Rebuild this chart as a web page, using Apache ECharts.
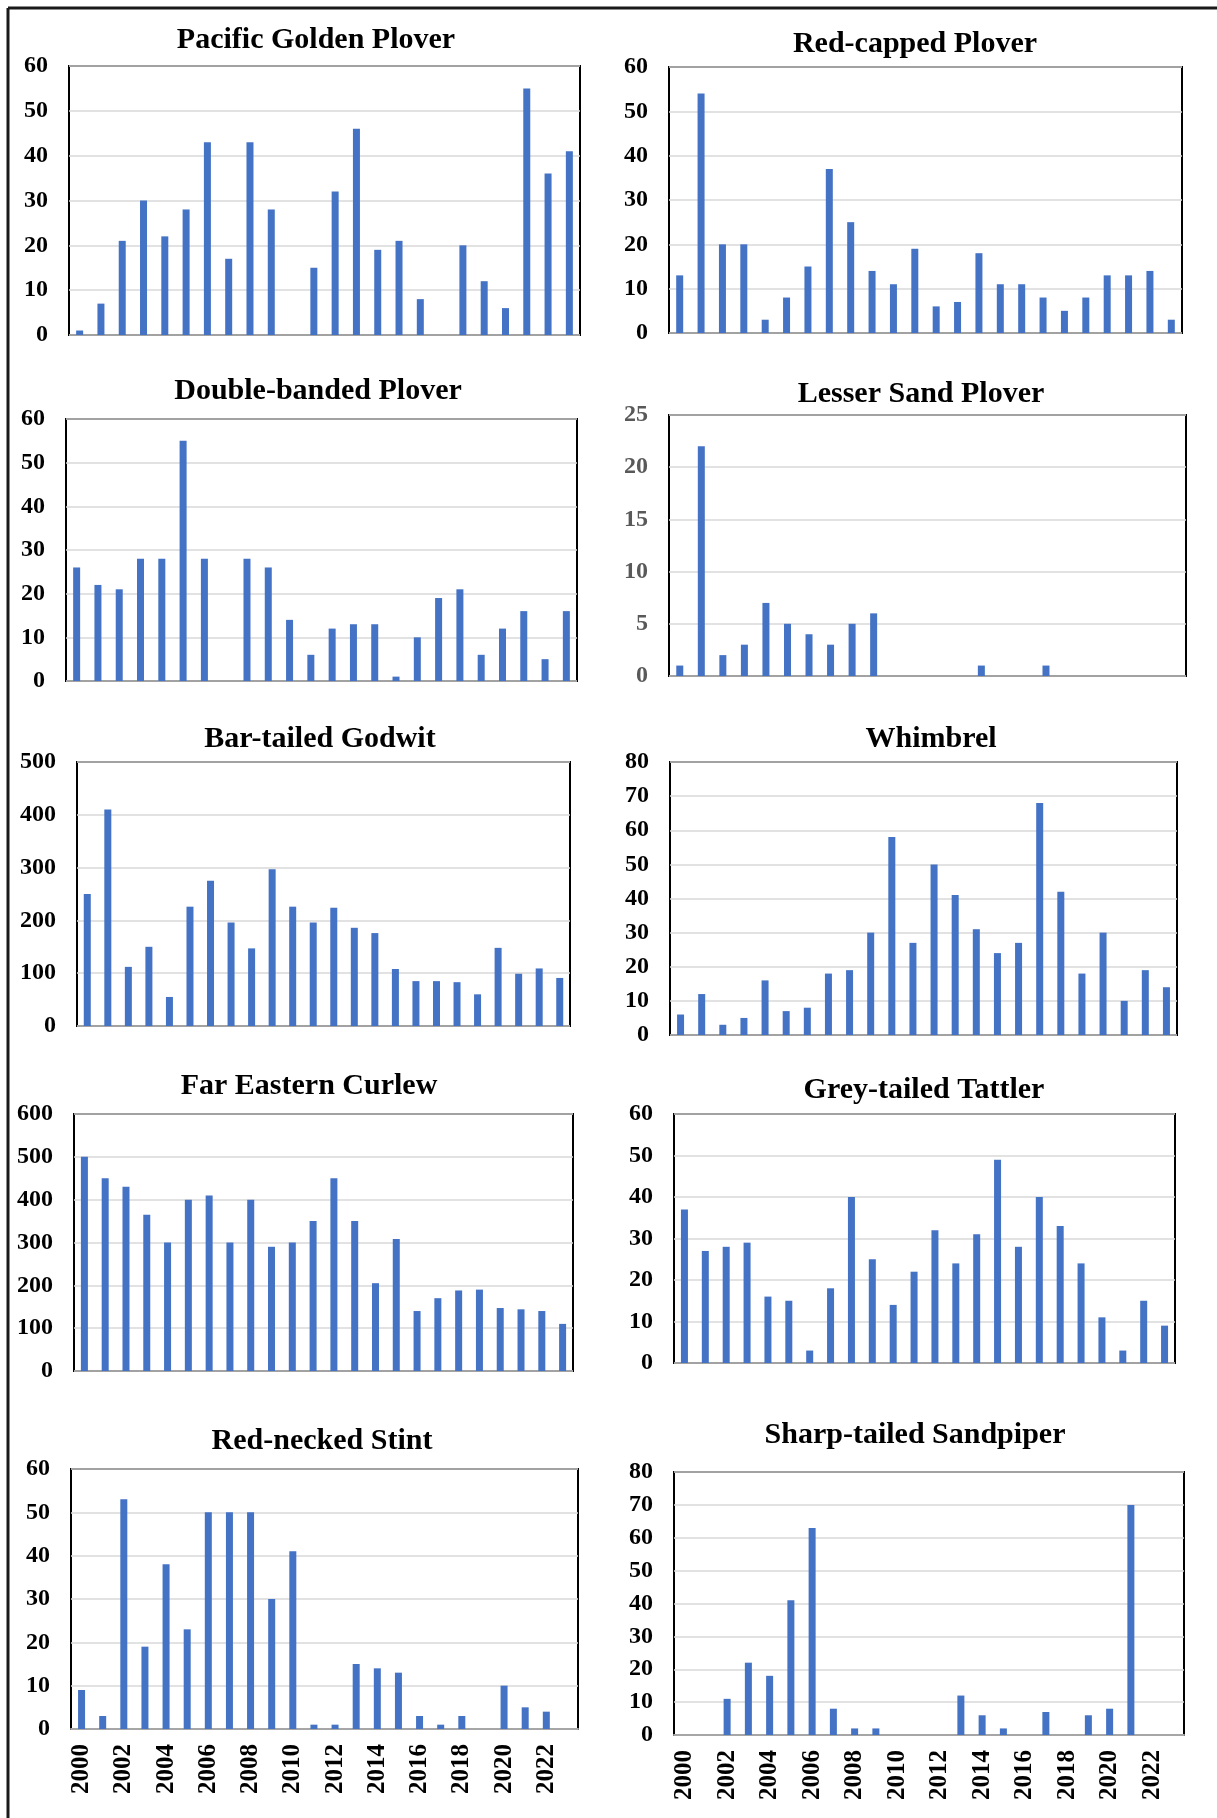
<!DOCTYPE html>
<html>
<head>
<meta charset="utf-8">
<title>Shorebird counts 2000-2023</title>
<script src="https://cdn.jsdelivr.net/npm/echarts@6/dist/echarts.min.js"></script>
<style>
  html, body { margin: 0; padding: 0; background: #fff; }
  #main { width: 1217px; height: 1818px; }
</style>
</head>
<body>
<div id="main"></div>
<script>
// years on the x axis
var years = ['2000','2001','2002','2003','2004','2005','2006','2007','2008','2009','2010','2011',
             '2012','2013','2014','2015','2016','2017','2018','2019','2020','2021','2022','2023'];

// counts per species
var pacificGoldenPlover = [1,7,21,30,22,28,43,17,43,28,0,15,32,46,19,21,8,0,20,12,6,55,36,41];
var redCappedPlover     = [13,54,20,20,3,8,15,37,25,14,11,19,6,7,18,11,11,8,5,8,13,13,14,3];
var doubleBandedPlover  = [26,22,21,28,28,55,28,0,28,26,14,6,12,13,13,1,10,19,21,6,12,16,5,16];
var lesserSandPlover    = [1,22,2,3,7,5,4,3,5,6,0,0,0,0,1,0,0,1,0,0,0,0,0,0];
var barTailedGodwit     = [250,410,112,150,55,226,275,196,147,297,226,196,224,186,176,108,85,85,83,60,148,99,109,91];
var whimbrel            = [6,12,3,5,16,7,8,18,19,30,58,27,50,41,31,24,27,68,42,18,30,10,19,14];
var farEasternCurlew    = [500,450,430,365,300,400,410,300,400,290,300,350,450,350,205,308,140,170,188,190,147,144,140,110];
var greyTailedTattler   = [37,27,28,29,16,15,3,18,40,25,14,22,32,24,31,49,28,40,33,24,11,3,15,9];
var redNeckedStint      = [9,3,53,19,38,23,50,50,50,30,41,1,1,15,14,13,3,1,3,0,10,5,4,0];
var sharpTailedSandpiper= [0,0,11,22,18,41,63,8,2,2,0,0,0,12,6,2,0,7,0,6,8,70,0,0];

// panel titles and y axis ranges
var titles = ['Pacific Golden Plover','Red-capped Plover','Double-banded Plover','Lesser Sand Plover',
              'Bar-tailed Godwit','Whimbrel','Far Eastern Curlew','Grey-tailed Tattler',
              'Red-necked Stint','Sharp-tailed Sandpiper'];
var seriesData = [pacificGoldenPlover, redCappedPlover, doubleBandedPlover, lesserSandPlover,
                  barTailedGodwit, whimbrel, farEasternCurlew, greyTailedTattler,
                  redNeckedStint, sharpTailedSandpiper];
var yMax      = [60, 60, 60, 25, 500, 80, 600, 60, 60, 80];
var yInterval = [10, 10, 10, 5, 100, 10, 100, 10, 10, 10];

// plot boxes [left, top, width, height] and title centres [x, y]
var boxes = [
  [69, 66, 511, 269], [669, 67, 513, 266],
  [66, 419, 511, 262], [669, 415, 517, 261],
  [77, 762, 493, 264], [670, 762, 507, 273],
  [74, 1114, 499, 257], [674, 1114, 501, 249],
  [71, 1469, 507, 260], [674, 1472, 510, 263]
];
var titlePos = [
  [316, 38], [915, 42], [318, 389], [921, 392], [320, 737],
  [931, 737], [309, 1084], [924, 1088], [322, 1439], [915, 1433]
];

var font = 'Liberation Serif, Times New Roman, serif';
var chart = echarts.init(document.getElementById('main'));

var option = {
  backgroundColor: '#fff',
  animation: false,
  title: [], grid: [], xAxis: [], yAxis: [], series: [],
  graphic: [
    { type: 'line', shape: { x1: 8, y1: 8, x2: 1217, y2: 8 }, style: { stroke: '#1a1a1a', lineWidth: 3 } },
    { type: 'line', shape: { x1: 8, y1: 8, x2: 8, y2: 1818 }, style: { stroke: '#1a1a1a', lineWidth: 3 } }
  ]
};

for (var i = 0; i < titles.length; i++) {
  var bottomRow = i >= 8;
  option.title.push({
    text: titles[i],
    left: titlePos[i][0],
    top: titlePos[i][1] - 13,
    textAlign: 'center',
    padding: 0,
    textStyle: { fontFamily: font, fontSize: 30, fontWeight: 'bold', color: '#000' }
  });
  option.grid.push({
    left: boxes[i][0], top: boxes[i][1], width: boxes[i][2], height: boxes[i][3],
    outerBoundsMode: 'none',
    show: true, borderColor: '#000', borderWidth: 2, backgroundColor: 'transparent'
  });
  option.xAxis.push({
    type: 'category',
    gridIndex: i,
    data: years,
    axisTick: { show: false },
    axisLine: { show: bottomRow, lineStyle: { color: '#a6a6a6', width: 2 } },
    axisLabel: {
      show: bottomRow,
      rotate: 90,
      interval: 1,
      margin: 15,
      fontFamily: font, fontSize: 25, fontWeight: 'bold', color: '#000'
    }
  });
  option.yAxis.push({
    type: 'value',
    gridIndex: i,
    min: 0, max: yMax[i], interval: yInterval[i],
    axisLine: { show: false },
    axisTick: { show: false },
    axisLabel: {
      margin: 21,
      fontFamily: font, fontSize: 24, fontWeight: 'bold',
      color: i === 3 ? '#595959' : '#000'
    },
    splitLine: { lineStyle: { color: '#d9d9d9', width: 1.5 } }
  });
  option.series.push({
    type: 'bar',
    name: titles[i],
    xAxisIndex: i, yAxisIndex: i,
    data: seriesData[i],
    barWidth: 7,
    itemStyle: { color: '#4472c4' }
  });
}

chart.setOption(option);
</script>
</body>
</html>
